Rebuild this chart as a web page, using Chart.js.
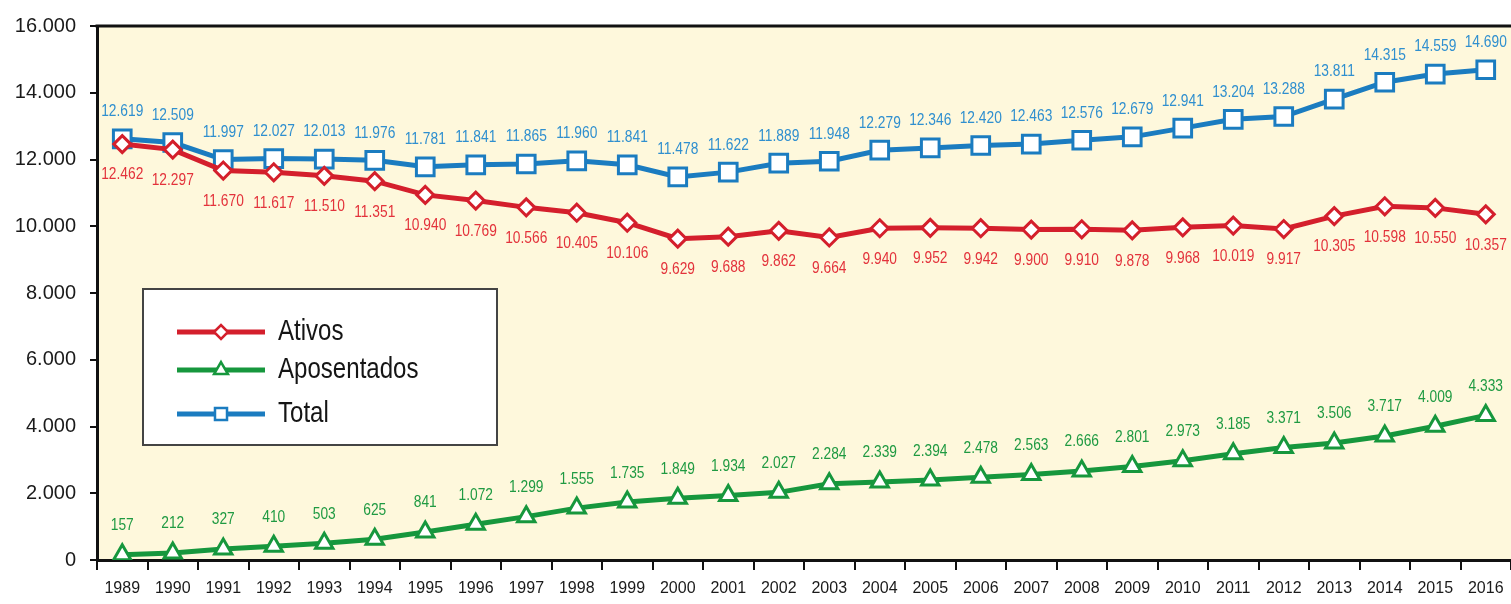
<!DOCTYPE html>
<html>
<head>
<meta charset="utf-8">
<script src="https://cdn.jsdelivr.net/npm/chart.js@4"></script>
<style>
  html, body { margin: 0; padding: 0; background: #ffffff; }
  #wrap { width: 1511px; height: 604px; position: relative; }
</style>
</head>
<body>
<div id="wrap"><canvas id="c" width="1511" height="604"></canvas></div>
<script>
const years = ['1989','1990','1991','1992','1993','1994','1995','1996','1997','1998','1999','2000','2001','2002','2003','2004','2005','2006','2007','2008','2009','2010','2011','2012','2013','2014','2015','2016'];
const ativos = [12462,12297,11670,11617,11510,11351,10940,10769,10566,10405,10106,9629,9688,9862,9664,9940,9952,9942,9900,9910,9878,9968,10019,9917,10305,10598,10550,10357];
const aposentados = [157,212,327,410,503,625,841,1072,1299,1555,1735,1849,1934,2027,2284,2339,2394,2478,2563,2666,2801,2973,3185,3371,3506,3717,4009,4333];
const total = [12619,12509,11997,12027,12013,11976,11781,11841,11865,11960,11841,11478,11622,11889,11948,12279,12346,12420,12463,12576,12679,12941,13204,13288,13811,14315,14559,14690];
const seriesNames = ['Ativos','Aposentados','Total'];

const SANS = "'Liberation Sans', Arial, sans-serif";
const fmt = v => String(v).replace(/\B(?=(\d{3})+(?!\d))/g, '.');

const labelCfg = [
  { color: '#e3323b', dy: 31 },   // Ativos: below
  { color: '#1f9a42', dy: -29 },  // Aposentados: above
  { color: '#2f8fcf', dy: -27 }   // Total: above
];

// horizontally condensed text (emulates the narrow typeface of the original)
function narrowText(ctx, text, x, y, sx) {
  ctx.save();
  ctx.translate(x, y);
  ctx.scale(sx, 1);
  ctx.fillText(text, 0, 0);
  ctx.restore();
}

const bgPlugin = {
  id: 'bg',
  beforeDraw(chart) {
    const { ctx, chartArea: a } = chart;
    ctx.save();
    ctx.fillStyle = '#fef8dc';
    ctx.fillRect(a.left, a.top, a.right - a.left, a.bottom - a.top);
    ctx.restore();
  },
  afterDraw(chart) {
    const { ctx, chartArea: a } = chart;
    ctx.save();
    ctx.strokeStyle = '#111';
    ctx.lineWidth = 3;
    ctx.beginPath();
    ctx.moveTo(a.left - 1.5, a.top);
    ctx.lineTo(a.right, a.top);
    ctx.stroke();
    ctx.restore();
  }
};

const valueLabels = {
  id: 'valueLabels',
  afterDatasetsDraw(chart) {
    const ctx = chart.ctx;
    ctx.save();
    ctx.font = "16px " + SANS;
    ctx.textAlign = 'center';
    ctx.textBaseline = 'middle';
    chart.data.datasets.forEach((ds, i) => {
      const meta = chart.getDatasetMeta(i);
      ctx.fillStyle = labelCfg[i].color;
      meta.data.forEach((pt, j) => {
        narrowText(ctx, fmt(ds.data[j]), pt.x, pt.y + labelCfg[i].dy, 0.86);
      });
    });
    ctx.restore();
  }
};

const boxLegend = {
  id: 'boxLegend',
  afterDraw(chart) {
    const { ctx, chartArea: a } = chart;
    const x0 = a.left + 46, y0 = a.top + 263, w = 354, h = 156;
    ctx.save();
    ctx.fillStyle = '#ffffff';
    ctx.fillRect(x0, y0, w, h);
    ctx.strokeStyle = '#444';
    ctx.lineWidth = 2;
    ctx.strokeRect(x0, y0, w, h);
    const rows = [43, 81, 125];
    chart.data.datasets.forEach((ds, i) => {
      const y = y0 + rows[i];
      ctx.strokeStyle = ds.borderColor;
      ctx.lineWidth = 5;
      ctx.beginPath();
      ctx.moveTo(x0 + 34, y);
      ctx.lineTo(x0 + 122, y);
      ctx.stroke();
      ctx.fillStyle = '#fff';
      ctx.strokeStyle = ds.borderColor;
      ctx.lineWidth = 2.5;
      Chart.helpers.drawPoint(ctx, {
        pointStyle: ds.pointStyle,
        radius: ds.pointStyle === 'rect' ? 8.5 : (ds.pointStyle === 'triangle' ? 8 : 7),
        rotation: 0,
        borderWidth: 2.5
      }, x0 + 78, y);
      ctx.fillStyle = '#151515';
      ctx.font = "29px " + SANS;
      ctx.textAlign = 'left';
      ctx.textBaseline = 'middle';
      narrowText(ctx, seriesNames[i], x0 + 135, y, 0.83);
    });
    ctx.restore();
  }
};

new Chart(document.getElementById('c'), {
  type: 'line',
  data: {
    labels: years,
    datasets: [
      {
        label: seriesNames[0], data: ativos,
        borderColor: '#d41f2c', borderWidth: 5,
        pointStyle: 'rectRot', pointRadius: 8.5, pointBorderWidth: 3,
        pointBackgroundColor: '#ffffff', pointBorderColor: '#d41f2c',
        tension: 0
      },
      {
        label: seriesNames[1], data: aposentados,
        borderColor: '#16973d', borderWidth: 5,
        pointStyle: 'triangle', pointRadius: 10, pointBorderWidth: 3,
        pointBackgroundColor: '#ffffff', pointBorderColor: '#16973d',
        tension: 0
      },
      {
        label: seriesNames[2], data: total,
        borderColor: '#1b7cc0', borderWidth: 5,
        pointStyle: 'rect', pointRadius: 12.5, pointBorderWidth: 3,
        pointBackgroundColor: '#ffffff', pointBorderColor: '#1b7cc0',
        tension: 0
      }
    ]
  },
  options: {
    responsive: false,
    animation: false,
    devicePixelRatio: 1,
    layout: { autoPadding: false, padding: { top: 25, right: 0, left: 0, bottom: 0 } },
    plugins: {
      legend: { display: false },
      tooltip: { enabled: false }
    },
    scales: {
      x: {
        offset: true,
        grid: { display: true, offset: true, drawOnChartArea: false, tickLength: 10, color: '#111', lineWidth: 2 },
        border: { display: true, color: '#111', width: 3 },
        ticks: { color: '#1a1a1a', font: { family: SANS, size: 16 }, padding: 9, maxRotation: 0, autoSkip: false },
        afterFit(s) { s.height = 44; s.paddingLeft = 0; s.paddingRight = 0; }
      },
      y: {
        min: 0, max: 16000,
        grid: { display: true, drawOnChartArea: false, tickLength: 7, color: '#111', lineWidth: 2 },
        border: { display: true, color: '#111', width: 3 },
        ticks: { stepSize: 2000, color: '#1a1a1a', font: { family: SANS, size: 20 }, padding: 14, callback: v => fmt(v) },
        afterFit(s) { s.width = 97; }
      }
    }
  },
  plugins: [bgPlugin, valueLabels, boxLegend]
});
</script>
</body>
</html>
